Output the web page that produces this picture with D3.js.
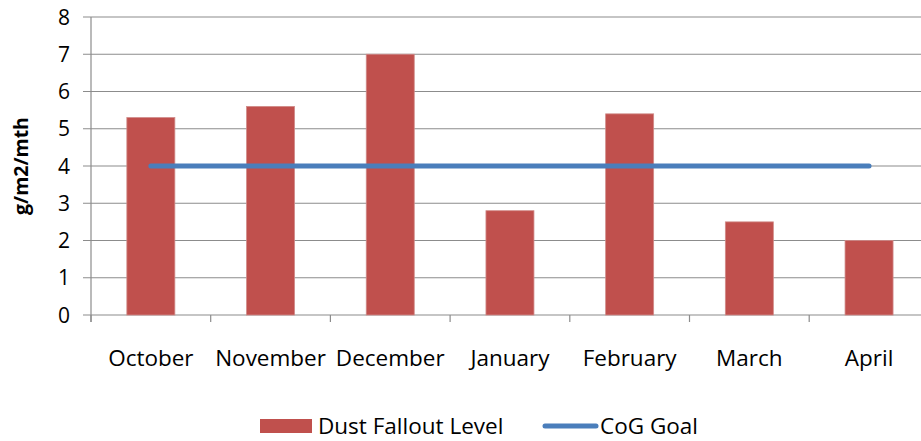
<!DOCTYPE html>
<html lang="en">
<head>
<meta charset="utf-8">
<title>Dust Fallout</title>
<script src="https://d3js.org/d3.v7.min.js"></script>
<style>
body { margin: 0; background: #fff; }
text { font-family: "Open Sans", "Noto Sans", sans-serif; fill: #000; }
.grid line { stroke: #8c8c8c; stroke-width: 1.2px; }
</style>
</head>
<body>
<div id="chart"></div>
<script>
var months = ["October", "November", "December", "January", "February", "March", "April"];
var dust = [5.3, 5.6, 7.0, 2.8, 5.4, 2.5, 2.0];
var goal = [4, 4, 4, 4, 4, 4, 4];
var yTicks = [0, 1, 2, 3, 4, 5, 6, 7, 8];

var width = 921, height = 441;
var svg = d3.select("#chart").append("svg")
    .attr("width", width)
    .attr("height", height);

var plotLeft = 91, plotTop = 17, plotBottom = 315;
var x = d3.scaleBand().domain(months).range([plotLeft, plotLeft + 7 * 119.7]).paddingInner(0).paddingOuter(0);
var y = d3.scaleLinear().domain([0, 8]).range([plotBottom, plotTop]);

// gridlines
svg.append("g").attr("class", "grid")
  .selectAll("line").data(yTicks).enter().append("line")
    .attr("x1", plotLeft - 8).attr("x2", width)
    .attr("y1", d => y(d)).attr("y2", d => y(d));

// y axis line
svg.append("line").attr("x1", plotLeft).attr("x2", plotLeft)
    .attr("y1", plotTop).attr("y2", plotBottom + 7)
    .attr("stroke", "#8c8c8c").attr("stroke-width", 1.2);

// x ticks at band edges
var edges = months.map(d => x(d)).concat([x(months[6]) + x.bandwidth()]);
svg.selectAll(".xt").data(edges).enter().append("line")
    .attr("x1", d => d).attr("x2", d => d)
    .attr("y1", plotBottom).attr("y2", plotBottom + 7)
    .attr("stroke", "#8c8c8c").attr("stroke-width", 1.2);

// y labels
svg.selectAll(".yl").data(yTicks).enter().append("text")
    .attr("x", 70).attr("y", d => y(d))
    .attr("dy", "0.36em")
    .attr("text-anchor", "end")
    .style("font-size", "21px")
    .text(d => d);

// bars
var bw = 48;
svg.selectAll(".bar").data(dust).enter().append("rect")
    .attr("x", (d, i) => x(months[i]) + x.bandwidth() / 2 - bw / 2)
    .attr("y", d => y(d))
    .attr("width", bw)
    .attr("height", d => plotBottom - y(d))
    .attr("fill", "#c0504d")
    .attr("stroke", "#d08b89").attr("stroke-width", 0.8);

// goal line
var line = d3.line()
    .x((d, i) => x(months[i]) + x.bandwidth() / 2)
    .y(d => y(d));
svg.append("path").datum(goal)
    .attr("d", line)
    .attr("fill", "none")
    .attr("stroke", "#4a7ebb")
    .attr("stroke-width", 5)
    .attr("stroke-linecap", "round");

// x labels
svg.selectAll(".xl").data(months).enter().append("text")
    .attr("x", d => x(d) + x.bandwidth() / 2)
    .attr("y", 366)
    .attr("text-anchor", "middle")
    .style("font-size", "22.5px")
    .text(d => d);

// y title
svg.append("text")
    .attr("transform", "translate(28,166) rotate(-90)")
    .attr("text-anchor", "middle")
    .style("font-size", "19.5px")
    .style("font-weight", "bold")
    .text("g/m2/mth");

// legend
svg.append("rect").attr("x", 260).attr("y", 419).attr("width", 52).attr("height", 14)
    .attr("fill", "#c0504d");
svg.append("text").attr("x", 318).attr("y", 434).style("font-size", "22.5px").text("Dust Fallout Level");
svg.append("line").attr("x1", 545).attr("x2", 596).attr("y1", 426).attr("y2", 426)
    .attr("stroke", "#4a7ebb").attr("stroke-width", 5).attr("stroke-linecap", "round");
svg.append("text").attr("x", 600).attr("y", 434).style("font-size", "22.5px").text("CoG Goal");
</script>
</body>
</html>
